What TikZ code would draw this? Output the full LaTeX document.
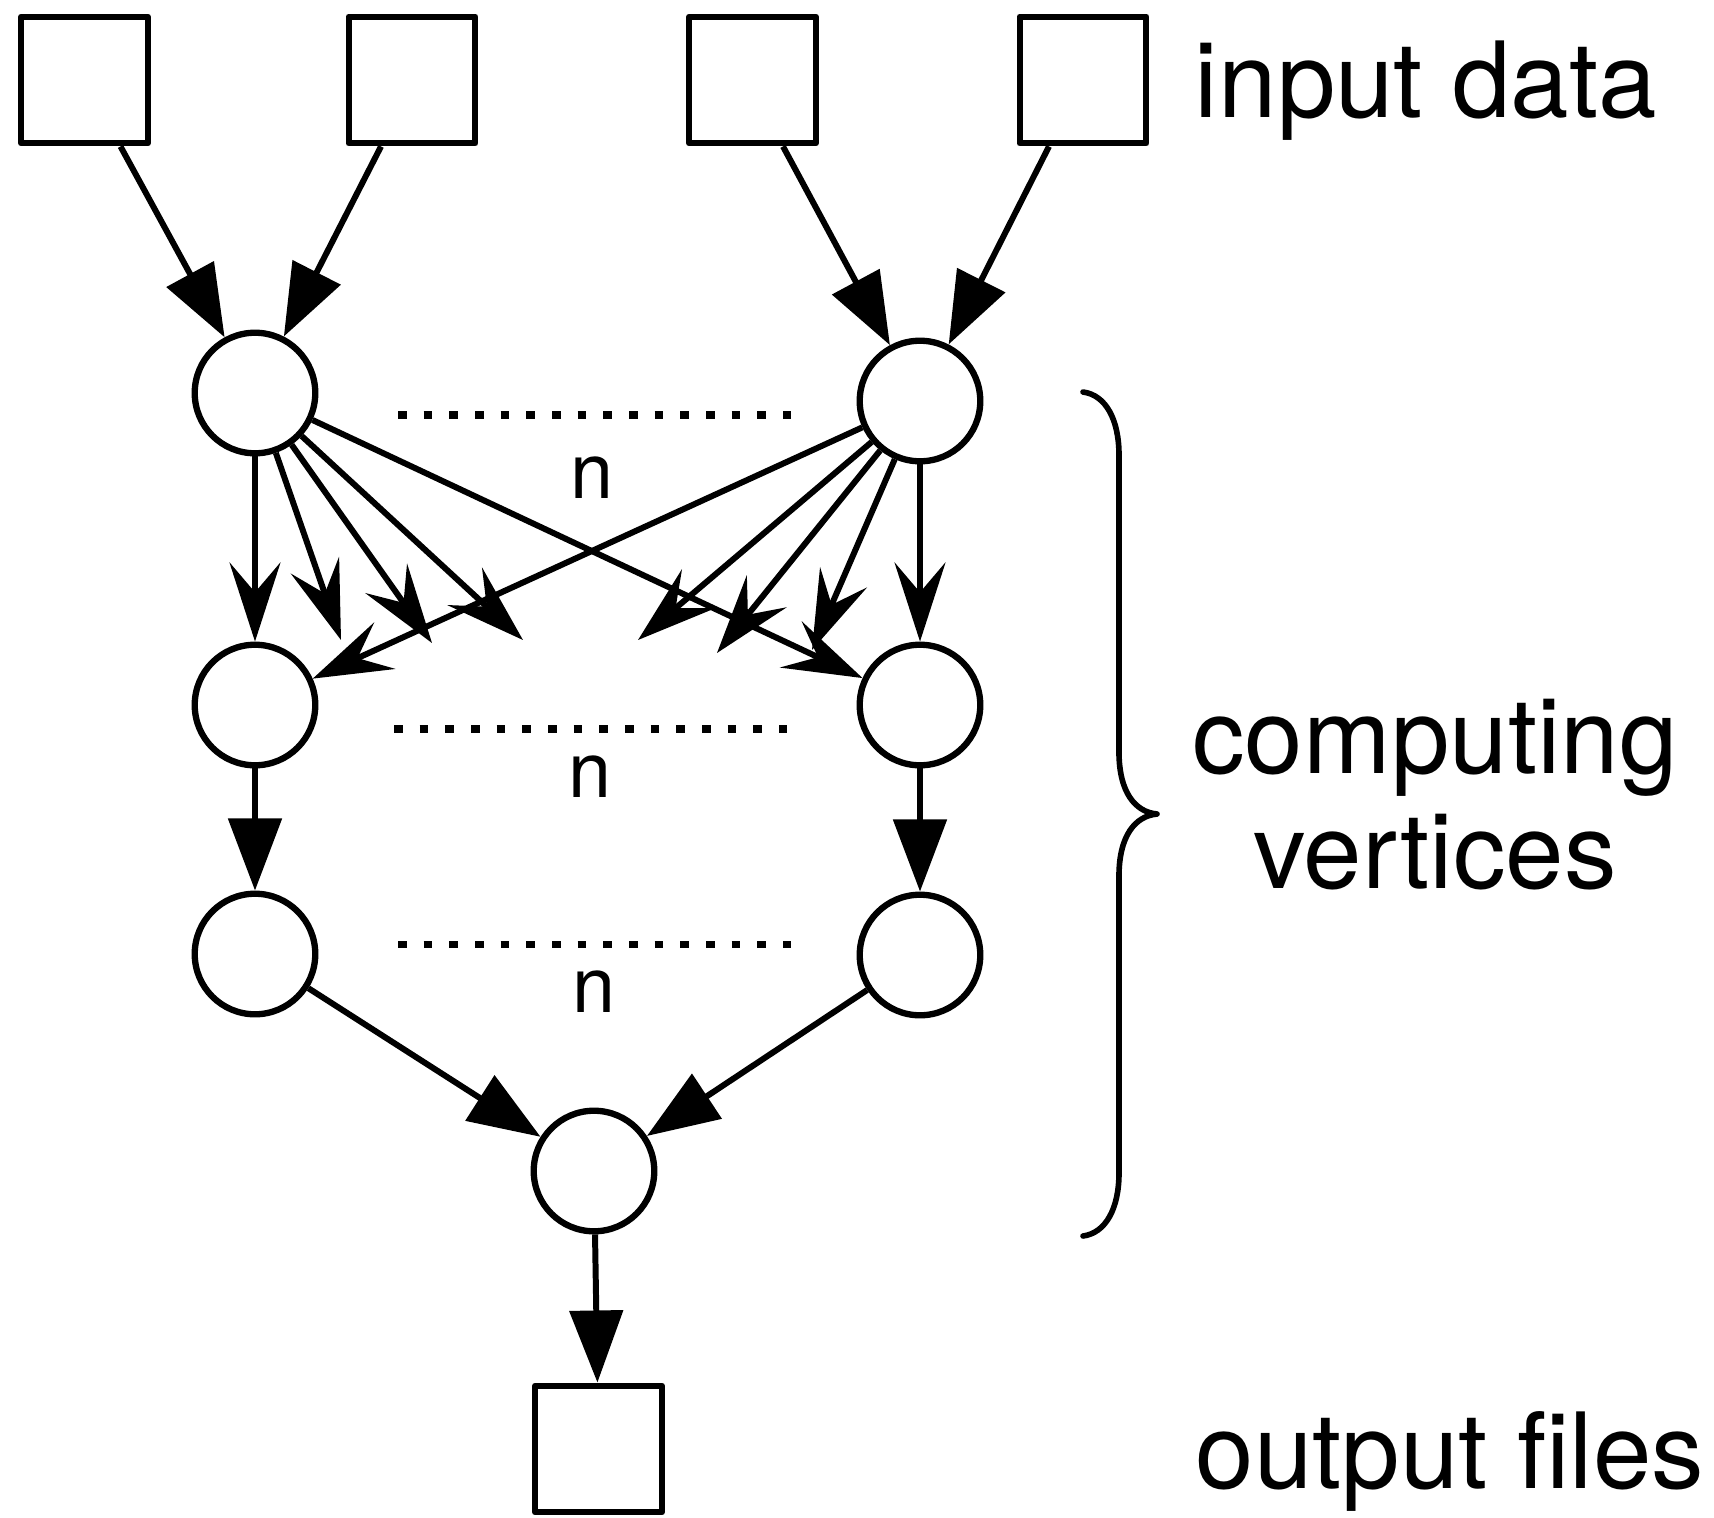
\documentclass[tikz,border=0pt]{standalone}
\usepackage{fontspec}
\setmainfont{TeX Gyre Heros}
\usetikzlibrary{arrows.meta}
\begin{document}
\begin{tikzpicture}[x=0.01cm,y=-0.01cm,
  databox/.style={draw,rectangle,line width=1.8pt,line join=round,minimum size=1.265cm,inner sep=0pt},
  vertex/.style={draw,circle,line width=1.8pt,minimum size=1.205cm,inner sep=0pt},
  flow/.style={line width=1.7pt,-{Triangle[length=20.5pt,width=15pt]}},
  fan/.style={line width=1.7pt,-{Stealth[length=22.5pt,width=14.5pt,inset=8.5pt]}},
  dotrow/.style={line width=2pt,dash pattern=on 2.45pt off 4.85pt},
  countlabel/.style={font=\fontsize{22pt}{26pt}\selectfont,anchor=base,inner sep=0pt},
  sidelabel/.style={font=\fontsize{29.9pt}{36pt}\selectfont,inner sep=0pt},
  bracestyle/.style={line width=1.6pt,line cap=round,line join=round},
]
\useasboundingbox[fill=white] (0,0) rectangle (1714,1517);

% input data boxes
\node[databox] (b1) at (84.5,80) {};
\node[databox] (b2) at (412,80) {};
\node[databox] (b3) at (752.5,80) {};
\node[databox] (b4) at (1083,80) {};

% computing vertices
\node[vertex] (L1) at (255,393) {};
\node[vertex] (R1) at (920,401) {};
\node[vertex] (L2) at (255,705) {};
\node[vertex] (R2) at (920,705) {};
\node[vertex] (L3) at (255,954) {};
\node[vertex] (R3) at (920,955) {};
\node[vertex] (C) at (594,1171) {};

% output file
\node[databox] (out) at (598.5,1449) {};

% open ends of the fan-out edges
\coordinate (fa2) at (341,640);
\coordinate (fa3) at (432,643);
\coordinate (fa4) at (523,640);
\coordinate (fb2) at (812,650);
\coordinate (fb3) at (717,653);
\coordinate (fb4) at (638,640);

% input edges
\draw[flow] ([xshift=0.36cm]b1.south) -- (L1);
\draw[flow] ([xshift=-0.31cm]b2.south) -- (L1);
\draw[flow] ([xshift=0.305cm]b3.south) -- (R1);
\draw[flow] ([xshift=-0.34cm]b4.south) -- (R1);

% fan-out from the first layer
\draw[fan] (L1) -- (L2);
\draw[fan] (L1) -- (fa2);
\draw[fan] (L1) -- (fa3);
\draw[fan] (L1) -- (fa4);
\draw[fan] (L1) -- (R2);
\draw[fan] (R1) -- (R2);
\draw[fan] (R1) -- (fb2);
\draw[fan] (R1) -- (fb3);
\draw[fan] (R1) -- (fb4);
\draw[fan] (R1) -- (L2);

% chains and merge
\draw[flow] (L2) -- (L3);
\draw[flow] (R2) -- (R3);
\draw[flow] (L3) -- (C);
\draw[flow] (R3) -- (C);
\draw[flow] (C) -- (out);

% rows of n vertices
\draw[dotrow] (398,415) -- (791,415);
\draw[dotrow] (394,729) -- (787,729);
\draw[dotrow] (398,944) -- (791,944);
\node[countlabel] (n1) at (592,498) {n};
\node[countlabel] (n2) at (590,797) {n};
\node[countlabel] (n3) at (594,1012) {n};

% brace around the computing vertices
\draw[bracestyle] (1083,392) .. controls (1106,395) and (1119,420) .. (1119,455)
  -- (1119,752) .. controls (1119,792) and (1135,812) .. (1157,814)
  .. controls (1135,816) and (1119,836) .. (1119,876)
  -- (1119,1173) .. controls (1119,1208) and (1106,1233) .. (1083,1236);

% side labels
\node[sidelabel,anchor=base west] (lin) at (1194,117) {input data};
\node[sidelabel,anchor=base] (lcomp) at (1435,773) {computing};
\node[sidelabel,anchor=base] (lvert) at (1435,888) {vertices};
\node[sidelabel,anchor=base west] (lout) at (1195,1488) {output files};
\end{tikzpicture}
\end{document}
